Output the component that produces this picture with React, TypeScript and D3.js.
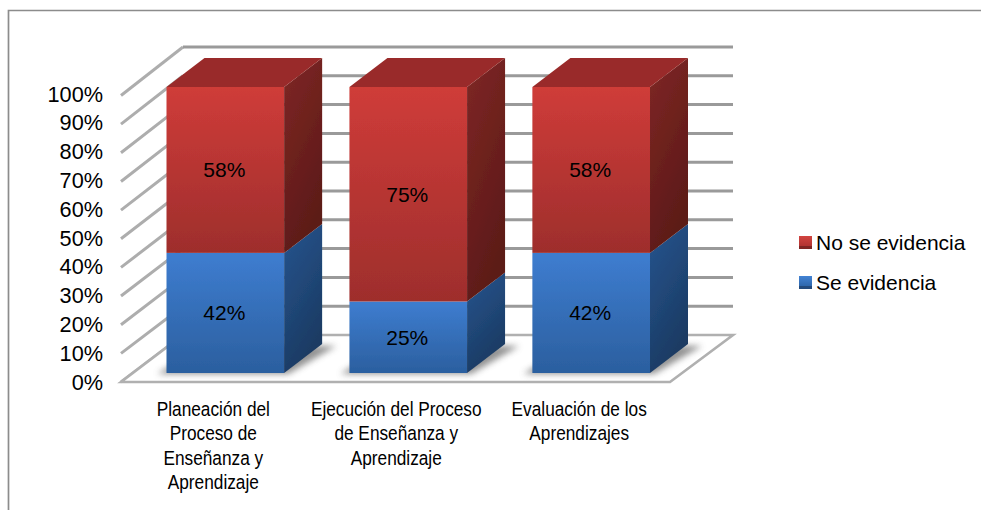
import React from "react";
import * as d3 from "d3";

const categories = [
  ["Planeación del", "Proceso de", "Enseñanza y", "Aprendizaje"],
  ["Ejecución del Proceso", "de Enseñanza y", "Aprendizaje"],
  ["Evaluación de los", "Aprendizajes"],
];
const seEvidencia = [42, 25, 42];
const noSeEvidencia = [58, 75, 58];
const yTicks = [0, 10, 20, 30, 40, 50, 60, 70, 80, 90, 100];
const legendItems = [
  { label: "No se evidencia", id: "red" },
  { label: "Se evidencia", id: "blue" },
];

const FONT = "'Liberation Sans', Arial, sans-serif";

export default function App() {
  const yFront = d3.scaleLinear().domain([0, 100]).range([373, 87]);
  const yAxis = d3.scaleLinear().domain([0, 100]).range([382, 95.5]);
  const yLabel = d3.scaleLinear().domain([0, 100]).range([389.5, 101.5]);
  const yBack = d3.scaleLinear().domain([0, 100]).range([335, 47]);
  const x = d3.scaleBand<number>().domain([0, 1, 2]).range([166.5, 650]).paddingInner(0.357).paddingOuter(0);
  const dx = 38;
  const dy = -29;
  const bw = x.bandwidth();

  const poly = (pts: number[][]) => pts.map((p) => p.join(",")).join(" ");
  const segs = (i: number, lo: number, hi: number, c: string, top: boolean) => {
    const l = x(i)!;
    const r = l + bw;
    const y0 = yFront(lo);
    const y1 = yFront(hi);
    return (
      <g key={c + i}>
        <rect x={l} y={y1} width={bw} height={y0 - y1} fill={`url(#${c}Front)`} />
        <polygon points={poly([[r, y0], [r + dx, y0 + dy], [r + dx, y1 + dy], [r, y1]])} fill={`url(#${c}Side)`} />
        {top && <polygon points={poly([[l, y1], [r, y1], [r + dx, y1 + dy], [l + dx, y1 + dy]])} fill="#992b29" />}
      </g>
    );
  };

  return (
    <svg width={981} height={510} style={{ position: "absolute", left: 0, top: 0 }}>
      <defs>
        <linearGradient id="redFront" x1="0" y1="0" x2="0" y2="1">
          <stop offset="0" stopColor="#cf3c39" />
          <stop offset="1" stopColor="#9e2e2c" />
        </linearGradient>
        <linearGradient id="redSide" x1="0" y1="0" x2="0.4" y2="1">
          <stop offset="0" stopColor="#7f2724" />
          <stop offset="1" stopColor="#5c1a18" />
        </linearGradient>
        <linearGradient id="blueFront" x1="0" y1="0" x2="0" y2="1">
          <stop offset="0" stopColor="#3e7dd0" />
          <stop offset="1" stopColor="#2b5f9f" />
        </linearGradient>
        <linearGradient id="blueSide" x1="0" y1="0" x2="0.4" y2="1">
          <stop offset="0" stopColor="#27558f" />
          <stop offset="1" stopColor="#1a3a62" />
        </linearGradient>
        <linearGradient id="lgred" x1="0" y1="0" x2="0" y2="1">
          <stop offset="0" stopColor="#d24440" />
          <stop offset="0.75" stopColor="#b33533" />
          <stop offset="0.76" stopColor="#7f2624" />
          <stop offset="1" stopColor="#7f2624" />
        </linearGradient>
        <linearGradient id="lgblue" x1="0" y1="0" x2="0" y2="1">
          <stop offset="0" stopColor="#4383d4" />
          <stop offset="0.75" stopColor="#2f68ad" />
          <stop offset="0.76" stopColor="#234a7c" />
          <stop offset="1" stopColor="#234a7c" />
        </linearGradient>
        <filter id="soft" x="-10%" y="-50%" width="120%" height="200%">
          <feGaussianBlur stdDeviation="0.6" />
        </filter>
        <filter id="barsoft" x="-5%" y="-5%" width="110%" height="110%">
          <feGaussianBlur stdDeviation="0.45" />
        </filter>
        <filter id="shadow" x="-30%" y="-60%" width="160%" height="220%">
          <feGaussianBlur stdDeviation="3" />
        </filter>
      </defs>

      <rect x={0} y={0} width={981} height={510} fill="#fff" />
      <path d="M8.5,510 V10.5 H981" fill="none" stroke="#8c8c8c" strokeWidth={1.7} />

      {/* walls */}
      <g strokeWidth={3} fill="none" filter="url(#soft)">
        {yTicks.map((t) => (
          <g key={t}>
            <line x1={121} y1={yAxis(t)} x2={183} y2={yBack(t)} stroke="#adadad" />
            {t > 0 && <line x1={183} y1={yBack(t)} x2={733} y2={yBack(t)} stroke="#9a9a9a" />}
          </g>
        ))}
      </g>

      {/* floor */}
      <polygon
        points={poly([[121, yAxis(0)], [183, yBack(0)], [733, yBack(0)], [670, yAxis(0)]])}
        fill="#fff"
        stroke="#b0b0b0"
        strokeWidth={2.6}
        filter="url(#soft)"
      />
      <line x1={121} y1={381.5} x2={670} y2={381.5} stroke="#a0a0a0" strokeWidth={3} filter="url(#soft)" />

      {/* floor shadows */}
      {seEvidencia.map((_, i) => (
        <polygon
          key={i}
          points={poly([
            [x(i)! - 9, yFront(0) + 1],
            [x(i)! + bw + 4, yFront(0) + 1],
            [x(i)! + bw + dx + 14, yFront(0) + dy + 2],
            [x(i)! + dx, yFront(0) + dy],
          ])}
          fill="#6e6e6e"
          opacity={0.75}
          filter="url(#shadow)"
        />
      ))}

      {/* bars */}
      <g filter="url(#barsoft)">
        {seEvidencia.map((v, i) => (
          <g key={i}>
            {segs(i, 0, v, "blue", false)}
            {segs(i, v, v + noSeEvidencia[i], "red", true)}
          </g>
        ))}
      </g>

      {/* value labels */}
      <g fontFamily={FONT} fontSize={21} textAnchor="middle" fill="#000">
        {seEvidencia.map((v, i) => (
          <g key={i}>
            <text x={x(i)! + bw / 2 - 1} y={yFront(v / 2) + 7.5}>{v}%</text>
            <text x={x(i)! + bw / 2 - 1} y={yFront(v + noSeEvidencia[i] / 2) + 7.5}>{noSeEvidencia[i]}%</text>
          </g>
        ))}
      </g>

      {/* y axis labels */}
      <g fontFamily={FONT} fontSize={21.7} textAnchor="end" fill="#000">
        {yTicks.map((t) => (
          <text key={t} x={103} y={yLabel(t)}>{t}%</text>
        ))}
      </g>

      {/* category labels */}
      <g fontFamily={FONT} fontSize={19.5} textAnchor="middle" fill="#000">
        {categories.map((lines, i) => {
          const cx = x(i)! + bw / 2 - 12;
          return (
            <g key={i} transform={`translate(${cx},0) scale(0.885,1)`}>
              {lines.map((s, j) => (
                <text key={j} x={0} y={416 + j * 24.3}>{s}</text>
              ))}
            </g>
          );
        })}
      </g>

      {/* legend */}
      <g fontFamily={FONT} fontSize={21} fill="#000">
        {legendItems.map((d, i) => (
          <g key={d.id}>
            <rect x={799} y={236 + i * 40} width={13} height={13} fill={`url(#lg${d.id})`} />
            <text x={816} y={250 + i * 40}>{d.label}</text>
          </g>
        ))}
      </g>
    </svg>
  );
}
